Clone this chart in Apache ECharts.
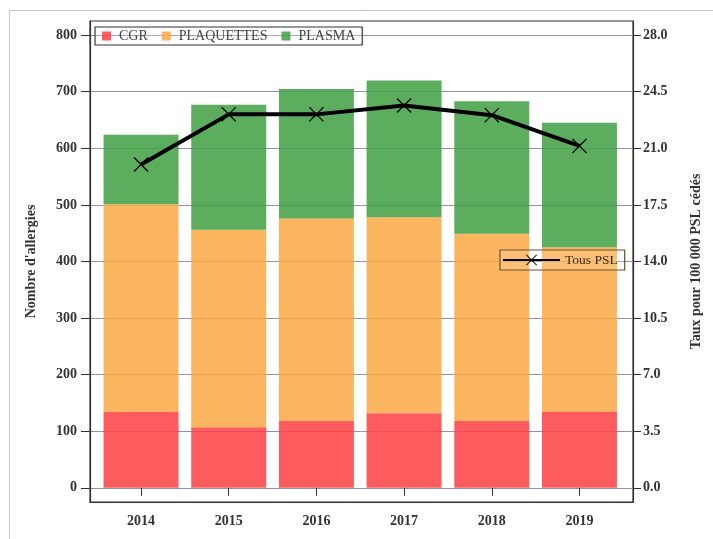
<!DOCTYPE html>
<html>
<head>
<meta charset="utf-8">
<script src="https://cdn.jsdelivr.net/npm/echarts@6/dist/echarts.min.js"></script>
<style>
html, body { margin: 0; padding: 0; background: #fff; }
#myChart { width: 713px; height: 539px; }
</style>
</head>
<body>
<div id="myChart"></div>
<script>
// données
const years = ['2014', '2015', '2016', '2017', '2018', '2019'];
const cgr = [134, 107, 118, 132, 118, 135];
const plaquettes = [367, 349, 358, 346, 331, 290];
const plasma = [123, 221, 229, 242, 234, 220];
const tousPsl = [20.0, 23.1, 23.1, 23.65, 23.05, 21.15];
const leftTicks = [0, 100, 200, 300, 400, 500, 600, 700, 800];
const rightTicks = [0, 3.5, 7, 10.5, 14, 17.5, 21, 24.5, 28];

const myChart = echarts.init(document.getElementById('myChart'));
const serif = '"Liberation Serif", "DejaVu Serif", serif';
const xMark = 'path://M0,0.6L0.6,0L5,4.4L9.4,0L10,0.6L5.6,5L10,9.4L9.4,10L5,5.6L0.6,10L0,9.4L4.4,5Z';
const lab = { fontFamily: serif, fontWeight: 'bold', fontSize: 14, color: '#333' };

const option = {
    backgroundColor: '#fff',
    animation: false,
    textStyle: { fontFamily: serif },
    graphic: [
        { type: 'line', shape: { x1: 9.5, y1: 10.5, x2: 713, y2: 10.5 }, style: { stroke: '#c8c8c8', lineWidth: 1 } },
        { type: 'line', shape: { x1: 9.5, y1: 10.5, x2: 9.5, y2: 539 }, style: { stroke: '#c8c8c8', lineWidth: 1 } }
    ],
    grid: [
        // cadre et axes y
        { left: 90, right: 80, top: 21, bottom: 37, show: true, borderColor: '#333', borderWidth: 1.2, backgroundColor: 'transparent' },
        // zone des barres (catégories)
        { left: 97.2, right: 89.7, top: 21, bottom: 37 }
    ],
    legend: [
        {
            data: ['CGR', 'PLAQUETTES', 'PLASMA'],
            left: 95, top: 27,
            icon: 'rect', itemWidth: 9, itemHeight: 9, itemGap: 14,
            padding: [2, 7, 2, 7],
            borderColor: '#333', borderWidth: 1.2, borderRadius: 0,
            backgroundColor: 'rgba(255,255,255,0.2)',
            textStyle: { fontFamily: serif, fontSize: 14, color: '#444', padding: [0, 0, 0, 3] }
        },
        {
            data: ['Tous PSL'],
            left: 500, top: 250,
            itemWidth: 57, itemHeight: 14, itemGap: 6,
            padding: [3, 7, 3, 2],
            borderColor: '#6b5030', borderWidth: 1.2, borderRadius: 0,
            backgroundColor: 'rgba(255,255,255,0.15)',
            textStyle: { fontFamily: serif, fontSize: 13.5, color: '#3a2a10' }
        }
    ],
    xAxis: [
        {
            gridIndex: 0, type: 'value', min: 0, max: 1,
            axisLine: { show: true, onZero: false, lineStyle: { color: '#333', width: 1.2 } },
            axisTick: { show: false }, axisLabel: { show: false }, splitLine: { show: false }
        },
        {
            gridIndex: 1, type: 'category', data: years,
            axisLine: { show: false },
            axisTick: { show: true, alignWithLabel: true, length: 8, lineStyle: { color: '#333' } },
            axisLabel: Object.assign({ margin: 12 }, lab),
            splitLine: { show: false }
        }
    ],
    yAxis: [
        {
            gridIndex: 0, type: 'value', min: -25, max: 825,
            name: "Nombre d'allergies",
            nameLocation: 'middle', nameRotate: 90, nameGap: 52,
            nameTextStyle: lab,
            axisLine: { show: true, onZero: false, lineStyle: { color: '#333', width: 1.2 } },
            axisTick: { show: true, customValues: leftTicks, length: 9, lineStyle: { color: '#333' } },
            axisLabel: Object.assign({ customValues: leftTicks, margin: 13 }, lab),
            splitLine: { show: true, lineStyle: { color: '#8f8fc4', width: 1 } }
        },
        {
            gridIndex: 0, type: 'value', min: -0.875, max: 28.875,
            name: 'Taux pour 100 000 PSL cédés',
            nameLocation: 'middle', nameRotate: 90, nameGap: 56,
            nameTextStyle: lab,
            axisLine: { show: true, onZero: false, lineStyle: { color: '#333', width: 1.2 } },
            axisTick: { show: true, customValues: rightTicks, length: 8, lineStyle: { color: '#333' } },
            axisLabel: Object.assign({ customValues: rightTicks, formatter: v => v.toFixed(1), margin: 10 }, lab),
            splitLine: { show: false }
        },
        { gridIndex: 1, type: 'value', min: -25, max: 825, show: false, splitLine: { show: false } },
        { gridIndex: 1, type: 'value', min: -0.875, max: 28.875, show: false, splitLine: { show: false } }
    ],
    series: [
        {
            name: 'CGR', type: 'bar', stack: 'psl', barWidth: 75,
            xAxisIndex: 1, yAxisIndex: 2,
            itemStyle: { color: '#fd4043', opacity: 0.85 },
            data: cgr
        },
        {
            name: 'PLAQUETTES', type: 'bar', stack: 'psl', barWidth: 75,
            xAxisIndex: 1, yAxisIndex: 2,
            itemStyle: { color: '#faa842', opacity: 0.85 },
            data: plaquettes
        },
        {
            name: 'PLASMA', type: 'bar', stack: 'psl', barWidth: 75,
            xAxisIndex: 1, yAxisIndex: 2,
            itemStyle: { color: '#40a042', opacity: 0.85 },
            data: plasma
        },
        {
            name: 'Tous PSL', type: 'line',
            xAxisIndex: 1, yAxisIndex: 3,
            symbol: xMark, symbolSize: 15, showAllSymbol: true,
            lineStyle: { color: '#000', width: 4 },
            itemStyle: { color: '#000' },
            z: 5,
            data: tousPsl
        }
    ]
};
myChart.setOption(option);

window.addEventListener('resize', myChart.resize);
</script>
</body>
</html>
